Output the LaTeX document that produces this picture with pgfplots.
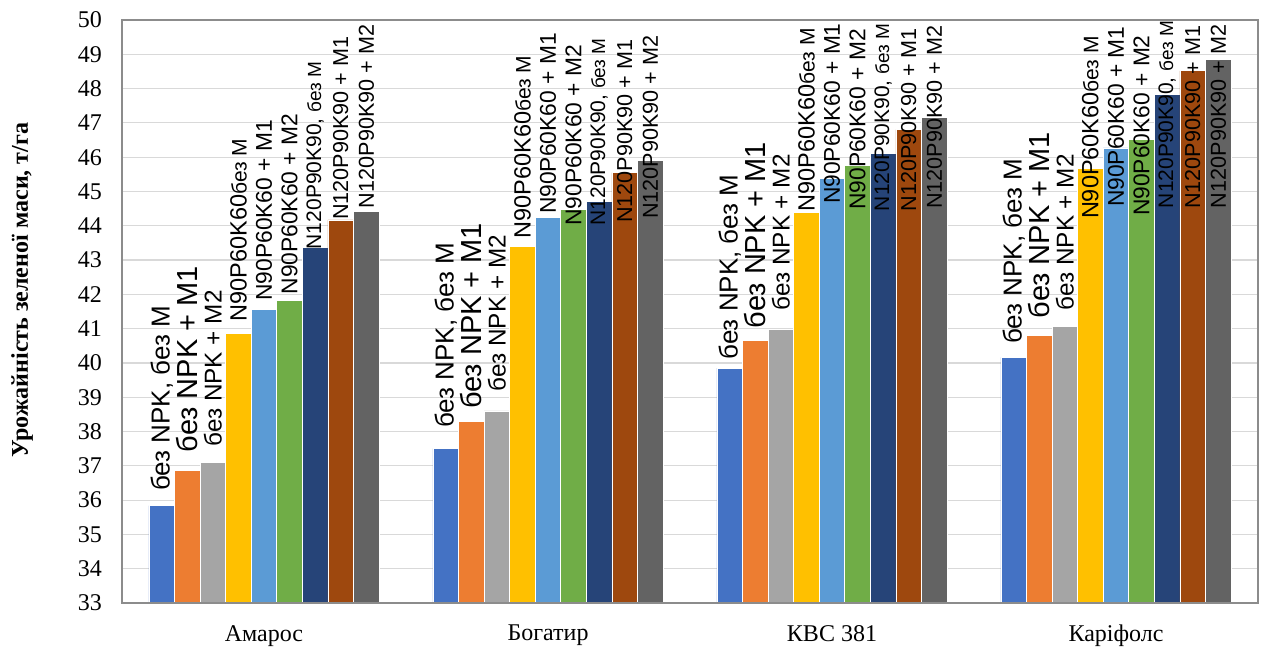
\documentclass[border=0pt]{standalone}
\usepackage{fontspec}
\setmainfont{Liberation Serif}
\newfontfamily\lab{Liberation Sans}
\usepackage{pgfplots}
\usepackage{pgfplotstable}
\pgfplotsset{compat=1.18}
\definecolor{c1}{HTML}{4472C4}
\definecolor{c2}{HTML}{ED7D31}
\definecolor{c3}{HTML}{A5A5A5}
\definecolor{c4}{HTML}{FFC000}
\definecolor{c5}{HTML}{5B9BD5}
\definecolor{c6}{HTML}{70AD47}
\definecolor{c7}{HTML}{264478}
\definecolor{c8}{HTML}{9E480E}
\definecolor{c9}{HTML}{636363}
\definecolor{gridc}{HTML}{D9D9D9}
\definecolor{axc}{HTML}{8C8C8C}

% x = variety, y = yield, ly = where the data label starts
\pgfplotstableread{
x y ly
0 35.84 36.32
1 37.50 38.16
2 39.85 40.15
3 40.16 40.61
}\sA
\pgfplotstableread{
x y ly
0 36.87 37.45
1 38.30 38.71
2 40.65 41.07
3 40.79 41.36
}\sB
\pgfplotstableread{
x y ly
0 37.10 37.62
1 38.60 39.23
2 40.98 41.59
3 41.07 41.59
}\sC
\pgfplotstableread{
x y ly
0 40.87 41.26
1 43.40 43.68
2 44.40 44.48
3 45.67 44.25
}\sD
\pgfplotstableread{
x y ly
0 41.56 41.87
1 44.24 44.40
2 45.39 44.69
3 46.27 44.60
}\sE
\pgfplotstableread{
x y ly
0 41.83 42.05
1 44.47 44.06
2 45.75 44.52
3 46.52 44.34
}\sF
\pgfplotstableread{
x y ly
0 43.36 43.37
1 44.70 44.06
2 46.10 44.48
3 47.82 44.57
}\sG
\pgfplotstableread{
x y ly
0 44.17 44.23
1 45.55 44.14
2 46.80 44.48
3 48.52 44.55
}\sH
\pgfplotstableread{
x y ly
0 44.43 44.57
1 45.90 44.25
2 47.15 44.55
3 48.85 44.57
}\sI

\newcommand\fs[1]{\fontsize{#1}{#1}\selectfont}
\newcommand\barplot[3]{\addplot[ybar, bar width=0.0901, bar shift=#2, fill=#1, draw=white, line width=0.7pt] table[x=x,y=y]{#3};}
\newcommand\labplot[4]{\addplot[only marks, mark=*, mark size=0pt, draw=none, fill=none,
  nodes near coords={#4},
  nodes near coords style={rotate=90, anchor=west, inner sep=0pt, xshift=-2pt, text=black, font=\lab\fs{#3}}]
  table[x expr=\thisrow{x}+#1, y=ly]{#2};}

\begin{document}
\begin{tikzpicture}
\useasboundingbox (0,0) rectangle (1264pt,648pt);
\begin{axis}[
  at={(122pt,45pt)}, anchor=south west,
  scale only axis, width=1136pt, height=583pt,
  xmin=-0.5, xmax=3.5, ymin=33, ymax=50,
  ytick distance=1,
  xtick={0,1,2,3},
  xticklabels={Амарос, Богатир, КВС 381, Каріфолс},
  major tick length=0pt,
  ymajorgrids, major grid style={draw=gridc, line width=1.2pt},
  axis line style={draw=axc, line width=1.5pt},
  clip=false,
  /pgf/number format/assume math mode=true,
  ticklabel style={font=\fs{24}, text=black},
  yticklabel style={anchor=east, inner sep=0pt, xshift=-20pt},
  xticklabel style={anchor=north, inner sep=0pt, yshift=-22pt},
  ylabel={Урожайність зеленої маси, т/га},
  ylabel style={at={(axis description cs:-0.088,0.537)}, anchor=center, font=\fs{24}\bfseries},
]
\barplot{c1}{-0.3604}{\sA}
\barplot{c2}{-0.2703}{\sB}
\barplot{c3}{-0.1802}{\sC}
\barplot{c4}{-0.0901}{\sD}
\barplot{c5}{0}{\sE}
\barplot{c6}{0.0901}{\sF}
\barplot{c7}{0.1802}{\sG}
\barplot{c8}{0.2703}{\sH}
\barplot{c9}{0.3604}{\sI}
% bottom axis line drawn again above the bars
\addplot[draw=axc, line width=1.5pt, mark=none] coordinates {(-0.5,33) (3.5,33)};
\labplot{-0.3604}{\sA}{26}{без NPK, без М}
\labplot{-0.2703}{\sB}{29}{без NPK + M1}
\labplot{-0.1802}{\sC}{24.3}{без NPK + M2}
\labplot{-0.0901}{\sD}{23.5}{N90P60K60{\fs{21}без М}}
\labplot{0}{\sE}{22.8}{N90P60K60 + M1}
\labplot{0.0901}{\sF}{22.8}{N90P60K60 + M2}
\labplot{0.1802}{\sG}{21}{N120P90K90, {\fs{19}без М}}
\labplot{0.2703}{\sH}{21.6}{N120P90K90 + M1}
\labplot{0.3604}{\sI}{21.6}{N120P90K90 + M2}
\end{axis}
\end{tikzpicture}
\end{document}
